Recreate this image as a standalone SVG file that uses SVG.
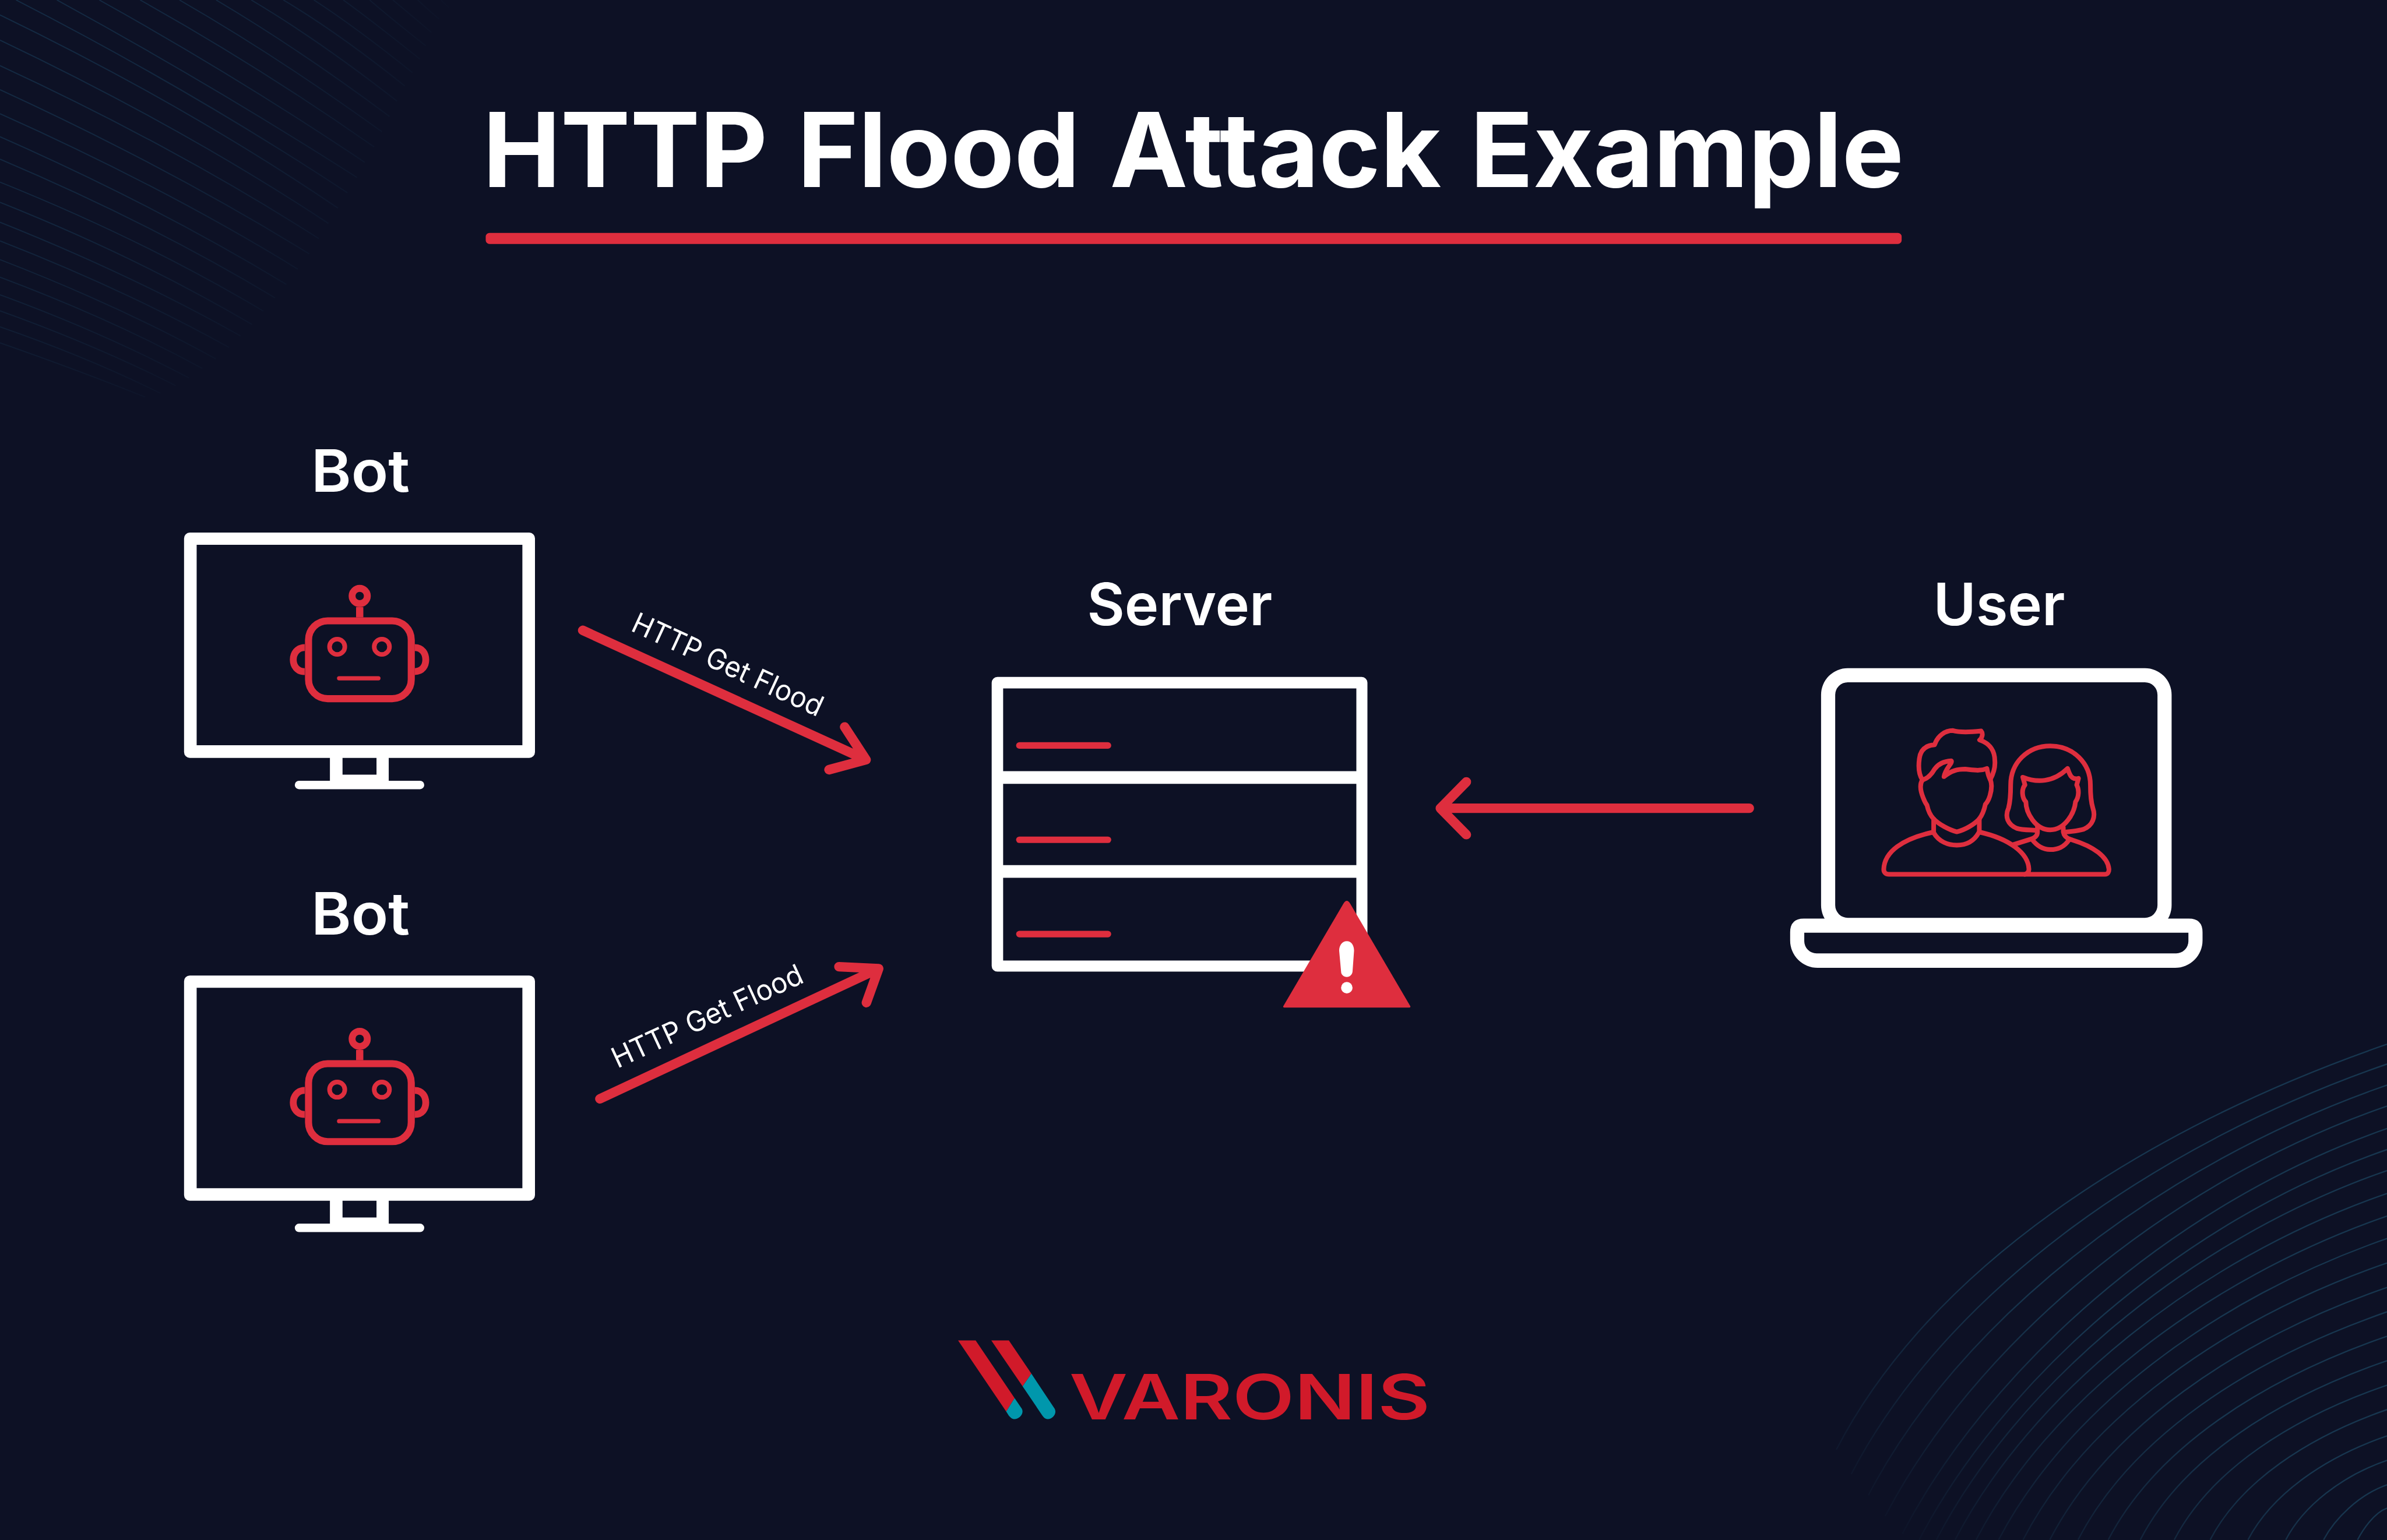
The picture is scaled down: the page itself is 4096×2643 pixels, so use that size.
<svg xmlns="http://www.w3.org/2000/svg" xmlns:xlink="http://www.w3.org/1999/xlink" width="4096" height="2643" viewBox="0 0 4096 2643">
<style>
.t{font-family:"Inter","Liberation Sans",sans-serif;fill:#fff}
.lab{font-size:153px;font-weight:560}
.small{font-size:75px;font-weight:400}
.wh{fill:#fff;fill-rule:evenodd}
.red{fill:#de2e3e}
.ln{fill:none;stroke:#de2e3e;stroke-linecap:round;stroke-linejoin:round}
.ppl{fill:none;stroke:#de2e3e;stroke-width:8;stroke-linecap:round;stroke-linejoin:round;vector-effect:non-scaling-stroke}
.ppl path{vector-effect:non-scaling-stroke}
.arr{fill:none;stroke:#de2e3e;stroke-width:25;stroke-linecap:round;stroke-linejoin:round}
#bgtl path{fill:none;stroke:url(#ftl);stroke-width:3}
#bgbr path{fill:none;stroke:url(#fbr);stroke-width:3.500}
</style>
<defs>
<radialGradient id="ftl" gradientUnits="userSpaceOnUse" cx="0" cy="0" r="1220">
<stop offset="0" stop-color="#15304a" stop-opacity=".85"/><stop offset=".5" stop-color="#15304a" stop-opacity=".65"/><stop offset="1" stop-color="#15304a" stop-opacity="0"/>
</radialGradient>
<linearGradient id="fbr" gradientUnits="userSpaceOnUse" x1="5250" y1="3300" x2="4780" y2="3960">
<stop offset="0" stop-color="#17364f" stop-opacity="1"/><stop offset="1" stop-color="#17364f" stop-opacity="0"/>
</linearGradient>
<g id="monitor">
<path class="wh" d="M497,1395H1386A15,15 0 0 1 1401,1410V1970A15,15 0 0 1 1386,1985H1018V2045H1100A11,11 0 0 1 1100,2067H783A11,11 0 0 1 783,2045H864V1985H497A15,15 0 0 1 482,1970V1410A15,15 0 0 1 497,1395ZM515,1427V1952H1368V1427ZM897,1985V2029H986V1985Z"/>
<rect class="ln" x="808" y="1626" width="269" height="204" rx="50" ry="50" style="stroke-width:18.5"/>
<circle class="ln" cx="942" cy="1561" r="20" style="stroke-width:18"/>
<path class="ln" d="M942,1590V1617" style="stroke-width:19;stroke-linecap:butt"/>
<path class="ln" d="M798,1696C778,1696 768,1712 768,1728C768,1744 778,1759 798,1759M1086,1696C1106,1696 1115,1712 1115,1728C1115,1744 1106,1759 1086,1759" style="stroke-width:18;stroke-linecap:butt"/>
<circle class="ln" cx="883" cy="1694" r="20" style="stroke-width:12"/>
<circle class="ln" cx="1000" cy="1694" r="20" style="stroke-width:12"/>
<path class="ln" d="M888,1776.500H991" style="stroke-width:11"/>
</g>
</defs>
<rect width="4096" height="2643" fill="#0d1125"/>
<g transform="scale(0.65525)">
<g id="bgtl">
<path d="M0,898Q209,971 380,1040"/><path d="M0,856Q231,936 420,1030"/><path d="M0,814Q253,905 460,1010"/><path d="M0,772Q272,872 495,990"/><path d="M0,726Q291,835 530,965"/><path d="M0,680Q311,800 565,940"/><path d="M0,631Q330,760 600,910"/><path d="M0,582Q346,720 630,880"/><path d="M0,530Q363,675 660,850"/><path d="M0,477Q380,630 690,815"/><path d="M0,417Q396,585 720,780"/><path d="M0,358Q412,540 750,745"/><path d="M0,298Q430,490 780,705"/><path d="M0,235Q445,440 810,665"/><path d="M0,172Q460,385 835,625"/><path d="M0,105Q473,330 860,585"/><path d="M0,39Q487,275 885,545"/><path d="M42,0Q500,235 910,505"/><path d="M149,0Q560,225 935,465"/><path d="M260,0Q620,200 955,425"/><path d="M367,0Q680,175 980,385"/><path d="M470,0Q730,150 1000,345"/><path d="M566,0Q785,130 1020,305"/><path d="M658,0Q835,105 1040,265"/><path d="M742,0Q885,85 1060,225"/><path d="M822,0Q930,70 1080,190"/><path d="M899,0Q975,55 1100,155"/><path d="M968,0Q1020,45 1115,120"/><path d="M1029,0Q1065,30 1130,85"/><path d="M1094,0Q1115,20 1150,50"/><path d="M1155,0Q1165,10 1175,20"/>
</g>
<g id="bgbr">
<path d="M6251,2735C5600,2960 5050,3330 4809,3797"/><path d="M6251,2787C5622,3005 5090,3397 4848,3861"/><path d="M6251,2842C5643,3053 5127,3467 4893,3916"/><path d="M6251,2897C5662,3101 5164,3536 4937,3971"/><path d="M6251,2956C5682,3153 5201,3597 4982,4017"/><path d="M6251,3011C5702,3201 5237,3628 5026,4033"/><path d="M6251,3066C5722,3249 5274,3643 5071,4033"/><path d="M6251,3126C5745,3301 5315,3659 5120,4033"/><path d="M6251,3185C5769,3352 5360,3677 5175,4033"/><path d="M6251,3244C5795,3402 5409,3697 5234,4033"/><path d="M6251,3308C5824,3456 5462,3717 5298,4033"/><path d="M6251,3372C5855,3509 5520,3741 5368,4033"/><path d="M6251,3436C5888,3562 5581,3765 5442,4033"/><path d="M6251,3500C5924,3613 5647,3792 5521,4033"/><path d="M6251,3564C5962,3664 5716,3819 5605,4033"/><path d="M6251,3628C6001,3714 5790,3849 5694,4033"/><path d="M6251,3692C6044,3764 5868,3880 5788,4033"/><path d="M6251,3761C6088,3817 5950,3913 5887,4033"/><path d="M6251,3825C6132,3866 6032,3945 5986,4033"/><path d="M6251,3889C6177,3915 6114,3978 6085,4033"/><path d="M6251,3950C6217,3962 6187,4008 6174,4033"/>
</g>
<g id="title">
<text class="t" y="490" font-size="271" font-weight="700" xml:space="preserve"><tspan x="1264" textLength="746" lengthAdjust="spacingAndGlyphs">HTTP</tspan> <tspan x="2088" textLength="740" lengthAdjust="spacingAndGlyphs">Flood</tspan> <tspan x="2906" textLength="868" lengthAdjust="spacingAndGlyphs">Attack</tspan> <tspan x="3850" textLength="1136" lengthAdjust="spacingAndGlyphs">Example</tspan></text>
<rect class="red" x="1272" y="610" width="3708" height="29" rx="10"/>
</g>
<g id="bot-1">
<text class="t lab" x="815" y="1288" textLength="258" lengthAdjust="spacingAndGlyphs">Bot</text>
<use href="#monitor"/>
</g>
<g id="bot-2">
<text class="t lab" x="815" y="2448" textLength="258" lengthAdjust="spacingAndGlyphs">Bot</text>
<use href="#monitor" y="1160"/>
</g>
<g id="server">
<text class="t lab" x="2847" y="1637" textLength="485" lengthAdjust="spacingAndGlyphs">Server</text>
<path class="wh" d="M2612,1773H3566A15,15 0 0 1 3581,1788V2530A15,15 0 0 1 3566,2545H2612A15,15 0 0 1 2597,2530V1788A15,15 0 0 1 2612,1773ZM2627,1803V2020H3552V1803ZM2627,2053V2266H3552V2053ZM2627,2299V2516H3552V2299Z"/>
<rect class="red" x="2661" y="1944" width="249" height="17" rx="8.500"/>
<rect class="red" x="2661" y="2191" width="249" height="17" rx="8.500"/>
<rect class="red" x="2661" y="2438" width="249" height="17" rx="8.500"/>
<path class="red" d="M3518,2367Q3527,2352 3536,2367L3693,2635Q3695,2639 3691,2639H3363Q3359,2639 3361,2635Z"/>
<path class="wh" d="M3507,2490C3507,2476 3515,2465 3527,2465C3539,2465 3546,2476 3546,2490L3542,2545C3541,2553 3535,2559 3527,2559C3519,2559 3512,2553 3512,2545Z"/>
<ellipse cx="3527" cy="2587" rx="15" ry="15" fill="#fff"/>
</g>
<g id="user">
<text class="t lab" x="5063" y="1637" textLength="345" lengthAdjust="spacingAndGlyphs">User</text>
<path class="wh" d="M4839,1750H5617A70,70 0 0 1 5687,1820V2371A70,70 0 0 1 5617,2441H4839A70,70 0 0 1 4769,2371V1820A70,70 0 0 1 4839,1750ZM4839,1787A33,33 0 0 0 4806,1820V2371A33,33 0 0 0 4839,2404H5617A33,33 0 0 0 5650,2371V1820A33,33 0 0 0 5617,1787Z"/>
<path class="wh" d="M4724,2406H5732Q5768,2406 5768,2442V2463A72,72 0 0 1 5696,2535H4760A72,72 0 0 1 4688,2463V2442Q4688,2406 4724,2406ZM4725,2443V2465A32,32 0 0 0 4757,2497H5699A32,32 0 0 0 5731,2465V2443Z"/>
<g class="ppl" transform="translate(4600,1700) scale(.797,.574)">
<path d="M545,597C532,570 532,530 535,500C538,465 552,440 585,437C595,395 620,372 645,372C670,382 710,378 738,374C745,385 742,405 733,415C770,432 783,470 783,510C785,545 778,570 768,595"/>
<path d="M545,597C565,590 578,565 585,548C598,522 615,512 640,510C645,520 620,545 616,582C640,555 660,548 685,548C715,552 735,558 757,545C760,570 763,585 768,595"/>
<path d="M545,597C532,625 545,670 548,680C552,695 556,705 560,712C565,745 575,765 582,775C600,800 632,825 658,834C686,825 715,800 732,775C740,760 748,735 752,708C765,690 772,650 772,625C772,612 770,602 768,595"/>
<path d="M582,775V835M732,775V835"/>
<path d="M582,838C600,880 630,895 658,895C690,895 715,875 730,838"/>
<path d="M582,835C480,865 420,925 418,1005C418,1020 425,1028 435,1028H1145C1155,1028 1158,1015 1158,1005C1155,950 1110,900 1030,868"/>
<path d="M732,835C830,865 893,930 895,1005C895,1015 892,1022 882,1028"/>
<path d="M915,827C890,825 870,825 855,818C825,800 815,765 828,725C835,690 835,650 835,620C835,520 890,442 965,442C1040,442 1097,520 1097,620C1097,650 1097,690 1105,725C1115,765 1105,805 1075,822C1055,830 1035,832 1015,835"/>
<path d="M875,585C920,610 975,610 1022,545C1028,570 1035,600 1058,590L1052,620C1060,640 1060,675 1048,697C1045,745 1015,825 965,825C915,825 885,745 885,697C872,680 870,640 882,620Z"/>
<path d="M923,810V835C923,850 915,862 900,868L845,892M1008,815V835C1010,850 1018,862 1030,868"/>
<path d="M905,868C925,905 945,915 965,915C990,915 1010,905 1027,870"/>
</g>
</g>
<g id="connectors">
<path class="arr" d="M1526,1651L2268,1990M2212,1904L2268,1990L2171,2016"/>
<path class="arr" d="M1571,2878L2301,2537M2197,2532L2301,2537L2269,2626"/>
<path class="arr" d="M4581,2117H3772M3840,2048L3772,2117L3840,2186"/>
<text class="t small" transform="translate(1649,1651) rotate(24.750)" textLength="542" lengthAdjust="spacingAndGlyphs">HTTP Get Flood</text>
<text class="t small" transform="translate(1617,2799) rotate(-24.800)" textLength="542" lengthAdjust="spacingAndGlyphs">HTTP Get Flood</text>
</g>
<g id="logo">
<path fill="#d11a2a" d="M2509,3511H2555L2657,3662L2635,3697ZM2596,3511H2642L2701,3598L2678,3631Z"/>
<path fill="#0097ac" d="M2657,3662L2676,3690C2683,3703 2668,3717 2657,3717C2650,3717 2646,3712 2642,3708L2635,3697ZM2701,3598L2762,3690C2769,3703 2755,3717 2745,3717C2737,3717 2733,3712 2730,3708L2678,3631Z"/>
<text x="2800" y="3717" font-family="Inter,'Liberation Sans',sans-serif" font-weight="600" font-size="163" fill="#d11a2a" textLength="945" lengthAdjust="spacingAndGlyphs">VARONIS</text>
</g>
</g>
</svg>
